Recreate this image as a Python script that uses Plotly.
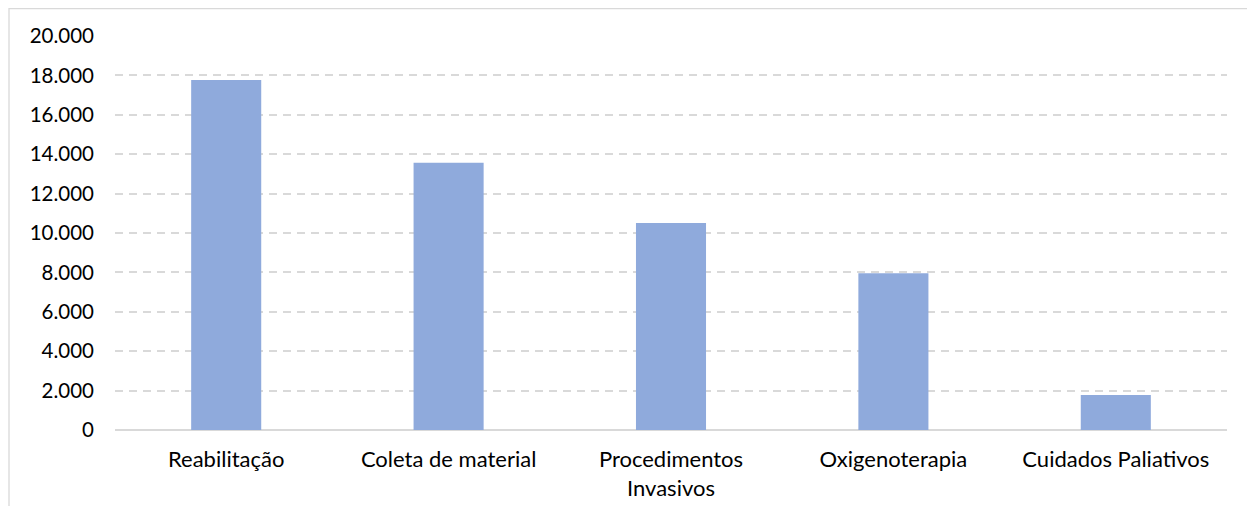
import plotly.graph_objects as go

categories = ["Reabilitação", "Coleta de material", "Procedimentos<br>Invasivos",
              "Oxigenoterapia", "Cuidados Paliativos"]
values = [17770, 13570, 10510, 7960, 1780]
y_ticks = [0, 2000, 4000, 6000, 8000, 10000, 12000, 14000, 16000, 18000, 20000]

# page has an 8px body margin; figure coordinates are page coordinates minus 8
W, H = 1239, 498
L, R, T, B = 107, 20, 28, 76
pw, ph = W - L - R, H - T - B

fig = go.Figure(go.Bar(x=categories, y=values, marker_color="#8FAADC",
                       marker_line_width=0, hoverinfo="x+y"))

fig.update_layout(
    width=W, height=H,
    margin=dict(l=L, r=R, t=T, b=B, pad=0, autoexpand=False),
    paper_bgcolor="white", plot_bgcolor="white",
    font=dict(family="Lato, Calibri, sans-serif", size=20, color="#000000"),
    separators=",.",
    bargap=0.685,
    showlegend=False,
    xaxis=dict(showgrid=False, showline=False, ticks="", ticklabelstandoff=14,
               tickfont=dict(size=22), automargin=False),
    yaxis=dict(range=[0, 20000], tickvals=y_ticks, tickformat=",d",
               showgrid=True, gridcolor="#D9D9D9", gridwidth=1.5, griddash="8px,6px",
               zeroline=True, zerolinecolor="#D9D9D9", zerolinewidth=1.5,
               showline=False, ticks="", ticklabelstandoff=20,
               tickfont=dict(size=20.5), automargin=False),
    shapes=[dict(type="rect", xref="paper", yref="paper",
                 x0=(1 - L) / pw, x1=(W + 20 - L) / pw,
                 y0=-(B + 20) / ph, y1=1 + (T - 0.7) / ph,
                 line=dict(color="#D9D9D9", width=1.3), fillcolor="rgba(0,0,0,0)",
                 layer="below")],
)

fig.write_html("out.html")
